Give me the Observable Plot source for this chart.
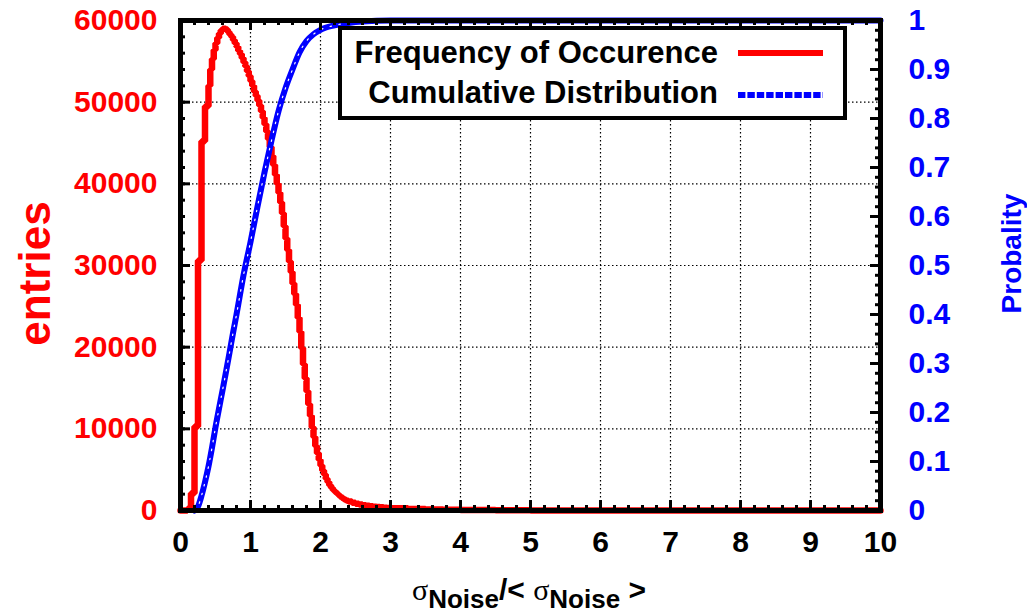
<!DOCTYPE html>
<html><head><meta charset="utf-8">
<script src="https://cdn.jsdelivr.net/npm/d3@7"></script>
<script src="https://cdn.jsdelivr.net/npm/@observablehq/plot@0.6"></script>
<style>html,body{margin:0;padding:0;background:#fff;} #chart{width:1027px;height:612px;}</style>
</head><body><div id="chart"></div>
<script>
// Histogram: left edge of each bin and number of entries
const binStart = [0.00,0.05,0.10,0.15,0.20,0.25,0.30,0.35,
  0.400,0.425,0.450,0.475,0.500,0.525,0.550,0.575,0.600,0.625,0.650,0.675,0.700,0.725,0.750,0.775,0.800,0.825,0.850,0.875,0.900,0.925,0.950,0.975,
  1.000,1.025,1.050,1.075,1.100,1.125,1.150,1.175,1.200,1.225,1.250,1.275,1.300,1.325,1.350,1.375,1.400,1.425,1.450,1.475,
  1.500,1.525,1.550,1.575,1.600,1.625,1.650,1.675,1.700,1.725,1.750,1.775,1.800,1.825,1.850,1.875,1.900,1.925,1.950,1.975,
  2.000,2.025,2.050,2.075,2.100,2.125,2.150,2.175,2.200,2.225,2.250,2.275,2.300,2.325,2.350,2.375,
  2.40,2.45,2.50,2.55,2.60,2.65,2.70,2.75,2.80,2.85,2.90,2.95,3.00,3.25,3.50,3.75,4.00,4.50,5.00,10.00];
const entries = [0,0,200,2100,10300,30600,45200,49500,
  52000,54000,55300,56400,57200,57900,58400,58800,59000,59000,58900,58600,58300,58000,57600,57200,56800,56300,55900,55400,54900,54400,53800,53200,
  52600,52000,51300,50800,50200,49600,48900,48100,47300,46400,45500,44500,43400,42300,41100,40000,38900,37700,36400,34800,
  33300,31900,30500,29200,27800,26500,25200,23600,21900,19900,17900,16200,14600,13000,11600,10200,9000,7900,7000,6200,
  5500,4900,4400,3900,3500,3100,2800,2500,2300,2100,1900,1700,1550,1400,1300,1200,
  1100,950,820,720,640,580,520,470,430,390,350,310,280,180,120,80,50,20,0,0];
// Cumulative distribution
const cdfX = [0.20,0.25,0.30,0.35,0.40,0.45,0.50,0.55,0.60,0.65,0.70,0.75,0.80,0.90,1.00,1.10,1.20,1.30,1.40,1.50,1.60,1.70,1.80,1.90,2.00,2.20,2.40,2.60,3.00,10.00];
const cdfP = [0,0.008,0.03,0.058,0.09,0.128,0.17,0.208,0.245,0.283,0.322,0.362,0.40,0.48,0.548,0.62,0.69,0.755,0.815,0.862,0.90,0.935,0.958,0.972,0.981,0.99,0.995,0.998,1.0,1.0];

const xTicks = [0,1,2,3,4,5,6,7,8,9,10];
const xLabels = ["0","1","2","3","4","5","6","7","8","9","10"];
const entryTicks = [0,10000,20000,30000,40000,50000,60000];
const entryLabels = ["0","10000","20000","30000","40000","50000","60000"];
const probTicks = [0,0.1,0.2,0.3,0.4,0.5,0.6,0.7,0.8,0.9,1];
const probLabels = ["0","0.1","0.2","0.3","0.4","0.5","0.6","0.7","0.8","0.9","1"];
const seriesNames = ["Frequency of Occurence","Cumulative Distribution"];
const xMinor = d3.range(0, 10.001, 0.2);
const yMinor = d3.range(0, 60001, 2000);
const pMinor = d3.range(0, 1.0001, 0.02);

const PMAX = 60000; // probability 1 mapped onto the entries scale
const hist = binStart.map((x, i) => ({x, v: entries[i]}));
const cdf = cdfX.map((x, i) => ({x, p: cdfP[i]}));
const xLab = new Map(xTicks.map((t, i) => [t, xLabels[i]]));
const yLab = new Map(entryTicks.map((t, i) => [t, entryLabels[i]]));
const pLab = new Map(probTicks.map((t, i) => [t * PMAX, probLabels[i]]));

const FONT = "'Liberation Sans', Arial, Helvetica, sans-serif";
const grid = {stroke: "#000", strokeOpacity: 1, strokeWidth: 1.2, strokeDasharray: "1.5,2.5"};

const svg = Plot.plot({
  width: 1027, height: 612,
  marginLeft: 180, marginRight: 147, marginTop: 20, marginBottom: 102,
  style: {fontFamily: FONT, fontWeight: "bold", background: "#fff", overflow: "visible"},
  x: {domain: [0, 10], label: null},
  y: {domain: [0, 60000], label: null},
  marks: [
    Plot.gridX(xTicks.slice(1, -1), grid),
    Plot.gridY(entryTicks.slice(1, -1), grid),
    Plot.line(hist, {x: "x", y: "v", curve: "step-after", stroke: "#ff0000", strokeWidth: 6.5, strokeLinejoin: "miter"}),
    Plot.line(cdf, {x: "x", y: d => d.p * PMAX, curve: "monotone-x", stroke: "#0000ff", strokeWidth: 6}),
    Plot.line(cdf, {x: "x", y: d => d.p * PMAX, curve: "monotone-x", stroke: "#ffffff", strokeWidth: 1.2, strokeDasharray: "1.5,7.5"}),
    Plot.frame({stroke: "#000", strokeWidth: 5}),
    Plot.tickX(xTicks, {x: d => d, insetTop: 480, stroke: "#000", strokeWidth: 3}),
    Plot.tickX(xTicks, {x: d => d, insetBottom: 480, stroke: "#000", strokeWidth: 3}),
    Plot.tickX(xMinor, {x: d => d, insetTop: 485, stroke: "#000", strokeWidth: 3}),
    Plot.tickX(xMinor, {x: d => d, insetBottom: 485, stroke: "#000", strokeWidth: 3}),
    Plot.tickY(entryTicks, {y: d => d, insetRight: 690, stroke: "#000", strokeWidth: 3}),
    Plot.tickY(yMinor, {y: d => d, insetRight: 695, stroke: "#000", strokeWidth: 3}),
    Plot.tickY(probTicks, {y: d => d * PMAX, insetLeft: 690, stroke: "#000", strokeWidth: 3}),
    Plot.tickY(pMinor, {y: d => d * PMAX, insetLeft: 695, stroke: "#000", strokeWidth: 3}),
    Plot.axisX(xTicks, {anchor: "bottom", tickSize: 0, tickPadding: 20, tickFormat: d => xLab.get(d), color: "#000", fontSize: 30, fontWeight: "bold"}),
    Plot.axisY(entryTicks, {anchor: "left", tickSize: 0, tickPadding: 23, tickFormat: d => yLab.get(d), color: "#ff0000", fontSize: 30, fontWeight: "bold"}),
    Plot.axisY(probTicks.map(p => p * PMAX), {anchor: "right", tickSize: 0, tickPadding: 28, tickFormat: d => pLab.get(d), color: "#0000ff", fontSize: 30, fontWeight: "bold"}),
    Plot.text(["entries"], {text: d => d, frameAnchor: "left", textAnchor: "middle", lineAnchor: "middle", dx: -145, dy: 8, rotate: -90, fill: "#ff0000", fontSize: 44, fontWeight: "bold"}),
    Plot.text(["Probality"], {text: d => d, frameAnchor: "right", textAnchor: "middle", lineAnchor: "middle", dx: 132, dy: -12, rotate: -90, fill: "#0000ff", fontSize: 28, fontWeight: "bold"})
  ]
});
document.getElementById("chart").appendChild(svg);

// Legend (opaque box over the grid)
const s = d3.select(svg);
const lg = s.append("g").attr("font-family", FONT).attr("font-weight", "bold").attr("font-size", 31);
lg.append("rect").attr("x", 340).attr("y", 28).attr("width", 505).attr("height", 90)
  .attr("fill", "#fff").attr("stroke", "#000").attr("stroke-width", 4);
lg.append("text").attr("x", 718).attr("y", 63).attr("text-anchor", "end").attr("fill", "#000").text(seriesNames[0]);
lg.append("text").attr("x", 718).attr("y", 103).attr("text-anchor", "end").attr("fill", "#000").text(seriesNames[1]);
lg.append("line").attr("x1", 738).attr("x2", 823).attr("y1", 53).attr("y2", 53).attr("stroke", "#ff0000").attr("stroke-width", 6);
lg.append("line").attr("x1", 738).attr("x2", 823).attr("y1", 95).attr("y2", 95).attr("stroke", "#0000ff").attr("stroke-width", 6).attr("stroke-dasharray", "7.4,2");

// X-axis title: σ_Noise / < σ_Noise >
const xt = s.append("text").attr("x", 529).attr("y", 600).attr("text-anchor", "middle")
  .attr("font-family", FONT).attr("font-weight", "bold").attr("font-size", 30).attr("fill", "#000");
xt.append("tspan").attr("font-family", "'Liberation Serif', 'DejaVu Serif', serif").attr("font-weight", "normal").attr("font-size", 30).text("σ");
xt.append("tspan").attr("font-size", 26).attr("dy", 8).text("Noise");
xt.append("tspan").attr("dy", -8).text("/< ");
xt.append("tspan").attr("font-family", "'Liberation Serif', 'DejaVu Serif', serif").attr("font-weight", "normal").attr("font-size", 30).text("σ");
xt.append("tspan").attr("font-size", 26).attr("dy", 8).text("Noise");
xt.append("tspan").attr("dy", -8).text(" >");
</script>
</body></html>
